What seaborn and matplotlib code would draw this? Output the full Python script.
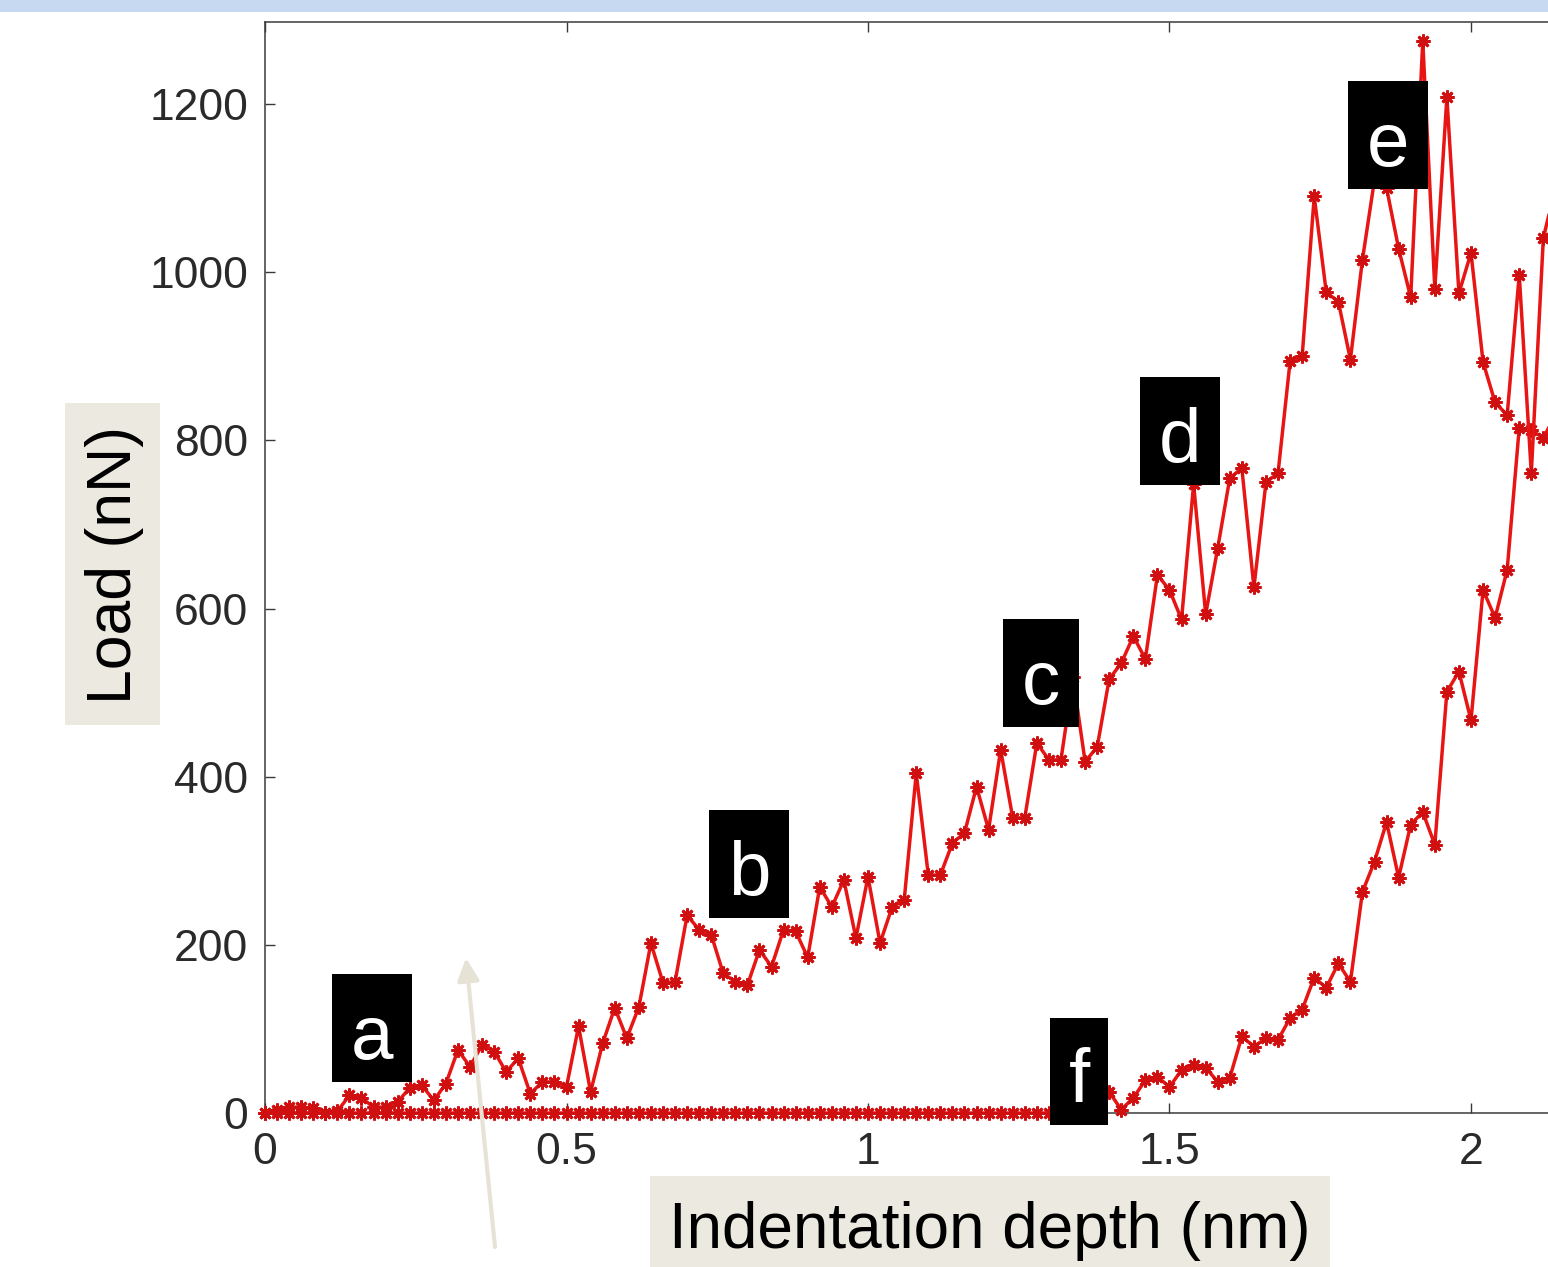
import numpy as np
import pandas as pd
import matplotlib
matplotlib.use("Agg")
import matplotlib.pyplot as plt
import seaborn as sns
from matplotlib.patches import Rectangle, FancyArrowPatch

# ---------------- data ----------------
step_nm = 0.02  # sampling step of the indentation depth

# loading branch, depth 0.00, 0.02, 0.04, ...
load_loading = [
    0, 4, 7, 7, 6, 0, 2, 21, 18, 7,
    7, 13, 30, 33, 15, 35, 75, 55, 81, 73,
    49, 65, 23, 37, 37, 31, 103, 25, 83, 125,
    89, 126, 202, 155, 156, 235, 218, 212, 166, 156,
    152, 194, 174, 218, 216, 185, 269, 245, 277, 208,
    281, 202, 245, 253, 404, 283, 283, 321, 333, 388,
    337, 432, 351, 351, 440, 420, 420, 518, 418, 435,
    516, 535, 567, 540, 640, 622, 587, 748, 593, 672,
    755, 767, 625, 750, 761, 894, 900, 1090, 976, 965,
    896, 1015, 1110, 1100, 1028, 970, 1275, 980, 1208, 975,
    1023, 893, 845, 830, 997, 761, 1041, 1100,
]

# unloading branch, depth 0.00, 0.02, 0.04, ... (tail at zero load)
load_unloading = [
    0, 0, 0, 0, 0, 0, 0, 0, 0, 0,
    0, 0, 0, 0, 0, 0, 0, 0, 0, 0,
    0, 0, 0, 0, 0, 0, 0, 0, 0, 0,
    0, 0, 0, 0, 0, 0, 0, 0, 0, 0,
    0, 0, 0, 0, 0, 0, 0, 0, 0, 0,
    0, 0, 0, 0, 0, 0, 0, 0, 0, 0,
    0, 0, 0, 0, 0, 0, 0, 0, 0, 0,
    25, 4, 18, 39, 43, 31, 51, 57, 54, 37,
    42, 91, 79, 89, 87, 113, 123, 161, 149, 178,
    156, 263, 299, 346, 280, 343, 358, 319, 501, 525,
    467, 622, 589, 646, 815, 812, 803, 830,
]

depth_loading = np.round(np.arange(len(load_loading)) * step_nm, 2)
depth_unloading = np.round(np.arange(len(load_unloading)) * step_nm, 2)

x_ticks = [0, 0.5, 1, 1.5, 2]
x_tick_labels = ["0", "0.5", "1", "1.5", "2"]
y_ticks = [0, 200, 400, 600, 800, 1000, 1200]
y_tick_labels = ["0", "200", "400", "600", "800", "1000", "1200"]
stage_labels = ["a", "b", "c", "d", "e", "f"]
x_title = "Indentation depth (nm)"
y_title = "Load (nN)"

df_load = pd.DataFrame({"depth": depth_loading, "load": load_loading})
df_unload = pd.DataFrame({"depth": depth_unloading[::-1], "load": load_unloading[::-1]})

# ---------------- style ----------------
sns.set_style("white")
plt.rcParams["font.family"] = ["Liberation Sans", "DejaVu Sans"]

W, H = 1548, 1267
fig = plt.figure(figsize=(W / 100, H / 100), dpi=100)
fig.patch.set_facecolor("white")


def fx(px):
    return px / W


def fy(py):  # py measured from the top
    return (H - py) / H


ax_left, ax_top, ax_bottom = 265, 22, 1113
ax = fig.add_axes([fx(ax_left), fy(ax_bottom), fx(W - ax_left), (ax_bottom - ax_top) / H])
ax.set_facecolor("white")

RED = "#e81515"
EDGE = "#d01010"
line_kw = dict(color=RED, linewidth=2.5, marker=(8, 2, 0), markersize=10,
               markeredgewidth=2.0, markeredgecolor=EDGE, markerfacecolor=RED,
               sort=False, estimator=None, clip_on=False, zorder=3, legend=False)
sns.lineplot(data=df_unload, x="depth", y="load", ax=ax, **line_kw)
sns.lineplot(data=df_load, x="depth", y="load", ax=ax, **line_kw)

ax.set_xlim(0, (W - ax_left) / 603.0)
ax.set_ylim(0, (ax_bottom - ax_top) / 0.84083)
ax.set_xticks(x_ticks)
ax.set_xticklabels(x_tick_labels)
ax.set_yticks(y_ticks)
ax.set_yticklabels(y_tick_labels)
ax.set_xlabel("")
ax.set_ylabel("")

for side in ["left", "top", "bottom"]:
    ax.spines[side].set_color("#3a3a3a")
    ax.spines[side].set_linewidth(1.1)
    ax.spines[side].set_visible(True)
ax.spines["right"].set_visible(False)

ax.tick_params(axis="both", direction="in", length=7, width=1.0, color="#3a3a3a",
               labelsize=32, labelcolor="#2a2a2a", pad=12,
               top=True, bottom=True, left=True, right=False)
ax.tick_params(axis="x", pad=14)

# ---------------- decorations ----------------
# light blue band at top
fig.add_artist(Rectangle((0, fy(12)), 1, 12 / H, transform=fig.transFigure,
                         facecolor="#c6d9f1", edgecolor="none", zorder=10))

BEIGE = "#eceae0"
# y title box
fig.add_artist(Rectangle((fx(65), fy(725)), fx(95), (725 - 403) / H, transform=fig.transFigure,
                         facecolor=BEIGE, edgecolor="none", zorder=10))
fig.text(fx(114), fy(565), y_title, rotation=90, ha="center", va="center",
         fontsize=45, color="black", zorder=11)

# x title box
fig.add_artist(Rectangle((fx(650), 0), fx(680), (H - 1176) / H, transform=fig.transFigure,
                         facecolor=BEIGE, edgecolor="none", zorder=10))
fig.text(fx(990), fy(1248), x_title, ha="center", va="baseline",
         fontsize=46, color="black", zorder=11)

# stage label boxes (left, top, right, bottom in pixels)
stage_boxes = [(332, 974, 412, 1082), (709, 810, 789, 918), (1003, 619, 1079, 727),
               (1140, 377, 1220, 485), (1348, 81, 1428, 189), (1050, 1018, 1108, 1125)]
for lab, (l, t, r, b) in zip(stage_labels, stage_boxes):
    fig.add_artist(Rectangle((fx(l), fy(b)), fx(r - l), (b - t) / H, transform=fig.transFigure,
                             facecolor="black", edgecolor="none", zorder=10))
    fig.text(fx((l + r) / 2), fy(b - 23), lab, ha="center", va="baseline",
             fontsize=55, color="white", zorder=11)

# thin arrow
arrow = FancyArrowPatch((fx(495), fy(1247)), (fx(466), fy(958)), transform=fig.transFigure,
                        arrowstyle="-|>,head_length=0.45,head_width=0.22", mutation_scale=30,
                        color="#e6e3d6", linewidth=3, shrinkA=0, shrinkB=0, zorder=12)
fig.add_artist(arrow)

fig.savefig("out.png", dpi=100)
